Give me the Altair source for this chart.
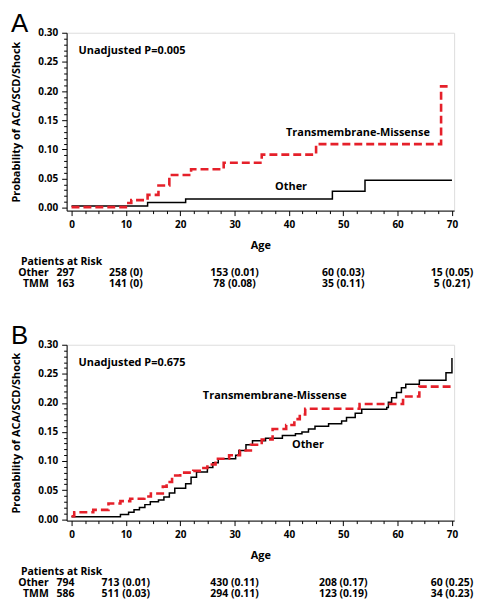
import altair as alt
import pandas as pd

# ---------------- data ----------------
# Panel A
a_other_age = [0, 14, 21, 48, 54, 70]
a_other_p = [0.003, 0.009, 0.015, 0.028, 0.047, 0.047]
a_tmm_age = [0, 10, 11, 14, 16, 18, 22, 28, 35, 45, 68, 69.2]
a_tmm_p = [0.001, 0.008, 0.013, 0.022, 0.038, 0.056, 0.066, 0.077, 0.091, 0.109, 0.208, 0.208]

# Panel B
b_other_age = [0, 9, 10.5, 11.5, 12.5, 13.5, 14.5, 16, 17, 18, 19, 21, 22, 23, 25, 26, 27,
               30.2, 30.8, 32.1, 33.3, 35.7, 38.8, 41.2, 42.4, 43.6, 44.8, 47.3, 49.7, 50.6,
               52.2, 53.4, 58.0, 58.3, 58.9, 59.8, 60.7, 61.5, 64.0, 68.9, 70.0]
b_other_p = [0.004, 0.008, 0.012, 0.016, 0.020, 0.025, 0.030, 0.033, 0.038, 0.045, 0.053, 0.061,
             0.072, 0.081, 0.089, 0.097, 0.104, 0.110, 0.118, 0.128, 0.135, 0.139, 0.144, 0.147,
             0.150, 0.155, 0.160, 0.164, 0.169, 0.175, 0.182, 0.189, 0.192, 0.201, 0.209, 0.218,
             0.226, 0.232, 0.239, 0.252, 0.277]
b_tmm_age = [0, 0.5, 4, 6.8, 9, 10.8, 13.4, 14.6, 16.8, 17.5, 18.5, 20, 22.4, 24, 25, 26.5, 29,
             31, 33, 35, 37, 39.5, 41, 42, 43, 53, 61, 64, 70]
b_tmm_p = [0.005, 0.012, 0.016, 0.027, 0.031, 0.035, 0.039, 0.044, 0.056, 0.064, 0.075, 0.080,
           0.083, 0.088, 0.094, 0.104, 0.110, 0.118, 0.128, 0.137, 0.155, 0.162, 0.172, 0.180,
           0.190, 0.198, 0.211, 0.228, 0.228]

# Patients at risk
risk_ages = [0, 10, 30, 50, 70]
a_other_risk = ["297", "258 (0)", "153 (0.01)", "60 (0.03)", "15 (0.05)"]
a_tmm_risk = ["163", "141 (0)", "78 (0.08)", "35 (0.11)", "5 (0.21)"]
b_other_risk = ["794", "713 (0.01)", "430 (0.11)", "208 (0.17)", "60 (0.25)"]
b_tmm_risk = ["586", "511 (0.03)", "294 (0.11)", "123 (0.19)", "34 (0.23)"]

group_names = ["Other", "TMM"]
x_ticks = [i * 2.5 for i in range(29)]
y_ticks = [round(i * 0.01, 2) for i in range(31)]

# ---------------- styling ----------------
FONT = "Open Sans"
W = 390
RED = "#e5202a"


def panel(letter, o_age, o_p, t_age, t_p, pval, tmm_lab_pos, oth_lab_pos, risk_o, risk_t, ymin, h):
    xaxis = alt.Axis(
        title="Age", values=x_ticks,
        labelExpr="datum.value % 10 == 0 ? datum.label : ''",
        tickSize={"condition": {"test": "datum.value % 10 == 0", "value": 5}, "value": 3},
        labelFont=FONT, labelFontSize=10, labelFontWeight="bold", labelColor="black",
        titleFont=FONT, titleFontSize=11, titleFontWeight="bold", titleColor="black",
        labelPadding=4, titlePadding=10, grid=False, domainColor="black", tickColor="black",
        labelFlush=False, labelOverlap=False,
    )
    yaxis = alt.Axis(
        title="Probability of ACA/SCD/Shock", values=y_ticks, format=".2f",
        labelExpr="round(datum.value * 100) % 5 == 0 ? datum.label : ''",
        tickSize={"condition": {"test": "round(datum.value * 100) % 5 == 0", "value": 5}, "value": 3},
        labelFont=FONT, labelFontSize=10, labelFontWeight="bold", labelColor="black",
        titleFont=FONT, titleFontSize=11, titleFontWeight="bold", titleColor="black",
        labelPadding=4, titlePadding=16, grid=False, domainColor="black", tickColor="black",
        labelFlush=False, labelOverlap=False,
    )
    x = alt.X("age:Q", scale=alt.Scale(domain=[-0.9, 70.4], nice=False, zero=False), axis=xaxis)
    y = alt.Y("p:Q", scale=alt.Scale(domain=[ymin, 0.30], nice=False, zero=False), axis=yaxis)

    df_o = pd.DataFrame({"age": o_age, "p": o_p})
    df_t = pd.DataFrame({"age": t_age, "p": t_p})

    line_o = alt.Chart(df_o).mark_line(interpolate="step-after", color="black",
                                        strokeWidth=1.5).encode(x=x, y=y)
    line_t = alt.Chart(df_t).mark_line(interpolate="step-after", color=RED, strokeWidth=2.6,
                                        strokeDash=[8, 4]).encode(x=x, y=y)

    txt = dict(baseline="middle", font=FONT, fontWeight="bold", color="black")
    pv = alt.Chart(pd.DataFrame({"age": [1.3], "p": [0.268], "t": ["Unadjusted P=" + pval]})
                   ).mark_text(align="left", fontSize=11, **txt).encode(x=x, y=y, text="t:N")
    tlab = alt.Chart(pd.DataFrame({"age": [tmm_lab_pos[0]], "p": [tmm_lab_pos[1]],
                                   "t": ["Transmembrane-Missense"]})
                     ).mark_text(align="center", fontSize=11, **txt).encode(x=x, y=y, text="t:N")
    olab = alt.Chart(pd.DataFrame({"age": [oth_lab_pos[0]], "p": [oth_lab_pos[1]],
                                   "t": ["Other"]})
                     ).mark_text(align="center", fontSize=11, **txt).encode(x=x, y=y, text="t:N")

    # risk table
    txt_kw = dict(txt, fontSize=10.5)
    row_y = [h + 52, h + 63, h + 74]
    head = alt.Chart(pd.DataFrame({"t": ["Patients at Risk"]})).mark_text(
        align="left", **txt_kw).encode(x=alt.value(-46), y=alt.value(row_y[0]), text="t:N")
    layers = [line_o, line_t, pv, tlab, olab, head]
    for i, (name, vals) in enumerate(zip(group_names, [risk_o, risk_t])):
        yy = row_y[i + 1]
        lab = alt.Chart(pd.DataFrame({"t": [name]})).mark_text(align="right", **txt_kw).encode(
            x=alt.value(-18), y=alt.value(yy), text="t:N")
        first = alt.Chart(pd.DataFrame({"age": risk_ages[:1], "t": vals[:1]})).mark_text(
            align="right", dx=3, **txt_kw).encode(x=x, y=alt.value(yy), text="t:N")
        rest = alt.Chart(pd.DataFrame({"age": risk_ages[1:], "t": vals[1:]})).mark_text(
            align="center", **txt_kw).encode(x=x, y=alt.value(yy), text="t:N")
        layers += [lab, first, rest]

    return alt.layer(*layers).properties(
        width=W, height=h,
        title=alt.TitleParams(letter, anchor="start", frame="bounds", font="Liberation Sans",
                              fontSize=26, fontWeight="normal", color="black", offset=-9),
    )


pa = panel("A", a_other_age, a_other_p, a_tmm_age, a_tmm_p, "0.005",
           (52.7, 0.128), (40.4, 0.036), a_other_risk, a_tmm_risk, -0.005, 179)
pb = panel("B", b_other_age, b_other_p, b_tmm_age, b_tmm_p, "0.675",
           (37.4, 0.211), (43.5, 0.128), b_other_risk, b_tmm_risk, -0.0025, 177)

chart = alt.vconcat(pa, pb, spacing=32).properties(
    padding={"left": 2, "top": 0, "right": 0, "bottom": 0}
).configure_view(stroke=None).configure(background="white")

chart.save("out.html", embed_options={"renderer": "svg", "actions": False})
